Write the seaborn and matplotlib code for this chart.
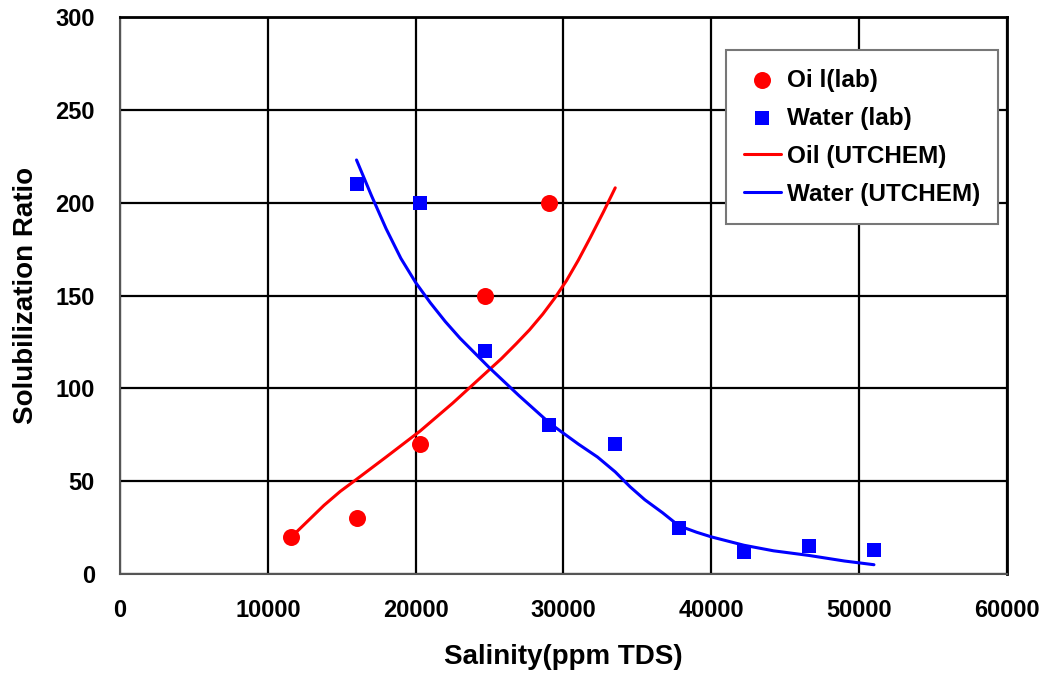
import numpy as np
import pandas as pd
import matplotlib
matplotlib.use('Agg')
import matplotlib.pyplot as plt
import seaborn as sns

# lab measurements
oil_lab_x = [11600, 16000, 20300, 24700, 29000]
oil_lab_y = [20, 30, 70, 150, 200]
water_lab_x = [16000, 20300, 24700, 29000, 33500, 37800, 42200, 46600, 51000]
water_lab_y = [210, 200, 120, 80, 70, 25, 12, 15, 13]

# UTCHEM curves
oil_sim_x = [11600, 12700, 13800, 14900, 16000, 18000, 20300, 22500, 24700, 25800,
             26800, 27700, 28600, 29400, 30200, 31000, 31800, 32700, 33500]
oil_sim_y = [20, 28.5, 37, 44.5, 51, 63, 77, 92, 108, 116,
             124, 131.5, 140, 148.5, 158, 169, 181, 195, 208]
water_sim_x = [16000, 17000, 18000, 19000, 20000, 21000, 22000, 23000, 24000, 25000,
               27000, 29100, 31000, 32300, 33500, 34500, 35500, 36700, 37800, 39000,
               40000, 42200, 44200, 46600, 49000, 51000]
water_sim_y = [223, 204, 186, 170, 157, 146, 136, 127, 119, 111,
               96, 81, 70, 63, 55, 47, 40, 33, 26, 22.5,
               20, 15.5, 12.5, 10, 7, 5]

sns.set_style('white')
plt.rcParams['font.family'] = ['Liberation Sans', 'DejaVu Sans']
plt.rcParams['font.weight'] = 'bold'
plt.rcParams['text.color'] = 'black'
plt.rcParams['axes.labelcolor'] = 'black'
plt.rcParams['xtick.color'] = 'black'
plt.rcParams['ytick.color'] = 'black'

fig = plt.figure(figsize=(10.47, 6.73), dpi=100)
ax = fig.add_axes([0.1146, 0.1471, 0.8472, 0.8276])

oil_lab = pd.DataFrame({'x': oil_lab_x, 'y': oil_lab_y})
water_lab = pd.DataFrame({'x': water_lab_x, 'y': water_lab_y})
oil_sim = pd.DataFrame({'x': oil_sim_x, 'y': oil_sim_y})
water_sim = pd.DataFrame({'x': water_sim_x, 'y': water_sim_y})

sns.scatterplot(data=oil_lab, x='x', y='y', ax=ax, color='#ff0000', marker='o',
                s=150, linewidth=0, label='Oi l(lab)', zorder=4)
sns.scatterplot(data=water_lab, x='x', y='y', ax=ax, color='#0000ff', marker='s',
                s=110, linewidth=0, label='Water (lab)', zorder=4)
sns.lineplot(data=oil_sim, x='x', y='y', ax=ax, color='#ff0000', lw=2.2,
             sort=False, estimator=None, label='Oil (UTCHEM)', zorder=3)
sns.lineplot(data=water_sim, x='x', y='y', ax=ax, color='#0000ff', lw=2.2,
             sort=False, estimator=None, label='Water (UTCHEM)', zorder=3)

ax.set_xlim(0, 60000)
ax.set_ylim(0, 300)
ax.set_xticks(np.arange(0, 60001, 10000))
ax.set_yticks(np.arange(0, 301, 50))
ax.grid(True, color='black', lw=1.6)
ax.set_axisbelow(True)

for side in ['top', 'right']:
    ax.spines[side].set_color('black')
    ax.spines[side].set_linewidth(2)
for side in ['left', 'bottom']:
    ax.spines[side].set_color('#555555')
    ax.spines[side].set_linewidth(1.5)

ax.tick_params(axis='both', direction='out', length=6, width=1.2, color='#666666',
               labelcolor='black', labelsize=17, pad=12)
for lbl in ax.get_xticklabels() + ax.get_yticklabels():
    lbl.set_fontweight('bold')

ax.set_xlabel('Salinity(ppm TDS)', fontsize=20, fontweight='bold', labelpad=16, color='black')
ax.set_ylabel('Solubilization Ratio', fontsize=20, fontweight='bold', labelpad=12, color='black')

leg = ax.legend(loc='upper right', bbox_to_anchor=(0.99, 0.94), borderaxespad=0,
                fontsize=17.5, frameon=True, fancybox=False, framealpha=1,
                edgecolor='#777777', labelspacing=0.62, handlelength=1.5,
                handletextpad=0.25, borderpad=0.75)
leg.get_frame().set_linewidth(1.5)
for t in leg.get_texts():
    t.set_fontweight('bold')
    t.set_color('black')

fig.savefig('out.png', dpi=100)
